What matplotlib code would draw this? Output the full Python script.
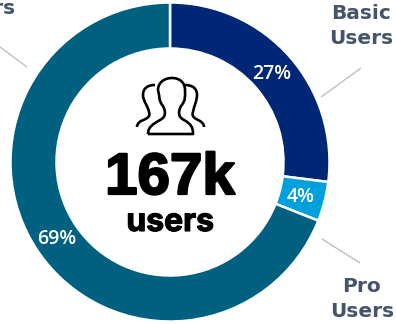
import matplotlib
matplotlib.use("Agg")
import matplotlib.pyplot as plt
import matplotlib.patheffects as pe
from matplotlib.path import Path
from matplotlib.patches import PathPatch

shares = [27, 4, 69]
share_labels = ["27%", "4%", "69%"]
colors = ["#002776", "#00A0DC", "#006080"]
total_label = "167k"
total_unit = "users"

fig = plt.figure(figsize=(3.96, 3.24), dpi=100)
ax = fig.add_axes([0, 0, 1, 1])

wedges, _ = ax.pie(
    shares,
    colors=colors,
    center=(170, 162),
    radius=159.5,
    startangle=90,
    counterclock=False,
    frame=True,
    wedgeprops=dict(width=46, edgecolor="white", linewidth=1.8),
)
ax.set_xlim(0, 396)
ax.set_ylim(324, 0)
ax.set_aspect("equal")
ax.axis("off")
# y axis is flipped for pixel coords, so the wedges get mirrored back
for w in wedges:
    w.set_transform(
        matplotlib.transforms.Affine2D().scale(1, -1).translate(0, 324) + ax.transData
    )

# percent labels
pct_font = dict(color="white", fontsize=14, fontweight="semibold", family="Open Sans",
                ha="center", va="center")
ax.text(272, 74, share_labels[0], **pct_font)
ax.text(301, 197, share_labels[1], **pct_font)
ax.text(57, 239, share_labels[2], **pct_font)

# leader lines
for xs, ys in [((321, 361), (97, 68)), ((322, 360), (239, 263)), ((0, 27), (47, 67))]:
    ax.plot(xs, ys, color="#BFBFBF", lw=1, solid_capstyle="butt")

# segment names
name_font = dict(color="#44546A", fontsize=14.5, fontweight="bold", family="DejaVu Sans",
                 va="center", linespacing=1.4)
ax.text(361, 26, "Basic\nUsers", ha="center", **name_font)
ax.text(362, 299, "Pro\nUsers", ha="center", **name_font)
ax.text(15, 8, "Users", ha="right", **name_font)

# centre total
ax.text(170, 194, total_label, ha="center", va="baseline", color="black", fontsize=42,
        fontweight="bold", family="Liberation Sans",
        path_effects=[pe.withStroke(linewidth=1.6, foreground="black")])
ax.text(170, 231, total_unit, ha="center", va="baseline", color="black", fontsize=23,
        fontweight="bold", family="Inter",
        path_effects=[pe.withStroke(linewidth=0.8, foreground="black")])

# people icon
M, C = Path.MOVETO, Path.CURVE4


def outline(points):
    codes = [M] + [C] * (len(points) - 1)
    return Path(points, codes)


centre_person = [
    (148, 134), (148, 127), (153, 124), (160, 120),
    (166, 117), (166, 112), (163, 106), (158, 100),
    (160, 97), (158, 90), (158, 82), (165, 78),
    (172, 78), (179, 78), (185, 82), (185, 90),
    (185, 97), (186, 100), (181, 106), (178, 112),
    (178, 117), (184, 120), (191, 124), (193, 127),
    (193, 134), (180, 134), (162, 134), (148, 134),
]
left_person = [
    (155, 85), (148, 85), (143, 88), (143, 95),
    (143, 101), (148, 106), (149, 112), (151, 117),
    (146, 119), (141, 121), (138, 123), (137, 125),
    (137, 127),
]
right_person = [
    (185, 85), (192, 85), (197, 88), (197, 95),
    (197, 101), (194, 106), (193, 112), (191, 117),
    (196, 119), (200, 121), (203, 123), (204, 125),
    (204, 127),
]
for pts in (centre_person, left_person, right_person):
    ax.add_patch(PathPatch(outline(pts), fill=False, edgecolor="black", lw=1.9, joinstyle="round"))

fig.savefig("out.png", dpi=100)
